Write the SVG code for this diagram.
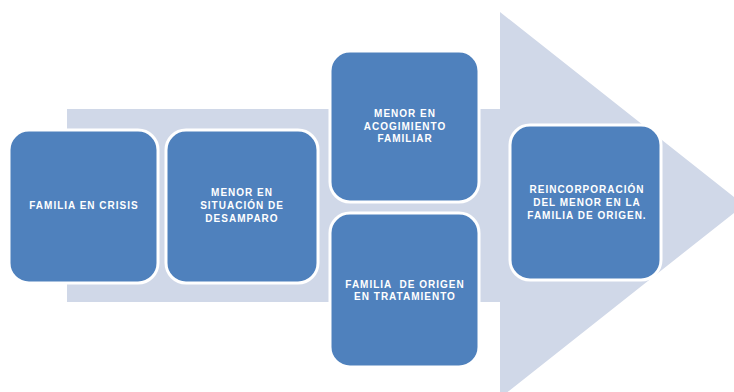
<svg xmlns="http://www.w3.org/2000/svg" width="734" height="392" viewBox="0 0 734 392">
<style>
.box{fill:#4F81BD;stroke:#FFFFFF;stroke-width:3}
.t{font-family:"Liberation Sans",Arial,sans-serif;font-size:10px;font-weight:bold;fill:#FFFFFF;text-anchor:middle;letter-spacing:1px}
</style>
<rect width="734" height="392" fill="#FFFFFF"/>
<g id="arrow">
<polygon points="67,109 500,109 500,12 744,205 500,398 500,302 67,302" fill="#D0D8E8"/>
</g>
<g id="connectors"></g>
<g id="n1">
<rect class="box" x="9" y="130" width="149" height="153" rx="20"/>
<text class="t" x="84" y="209">FAMILIA EN CRISIS</text>
</g>
<g id="n2">
<rect class="box" x="166" y="130" width="152" height="153" rx="20"/>
<text class="t" x="242" y="196">MENOR EN</text>
<text class="t" x="242" y="209">SITUACIÓN DE</text>
<text class="t" x="242" y="222">DESAMPARO</text>
</g>
<g id="n3">
<rect class="box" x="330" y="51" width="149" height="151" rx="20"/>
<text class="t" x="405" y="117">MENOR EN</text>
<text class="t" x="405" y="130">ACOGIMIENTO</text>
<text class="t" x="405" y="142">FAMILIAR</text>
</g>
<g id="n4">
<rect class="box" x="330" y="213" width="149" height="154" rx="20"/>
<text class="t" x="405" y="288" xml:space="preserve">FAMILIA  DE ORIGEN</text>
<text class="t" x="405" y="300">EN TRATAMIENTO</text>
</g>
<g id="n5">
<rect class="box" x="510" y="125" width="151" height="155" rx="20"/>
<text class="t" x="587" y="193">REINCORPORACIÓN</text>
<text class="t" x="587" y="206">DEL MENOR EN LA</text>
<text class="t" x="587" y="219">FAMILIA DE ORIGEN.</text>
</g>
</svg>
